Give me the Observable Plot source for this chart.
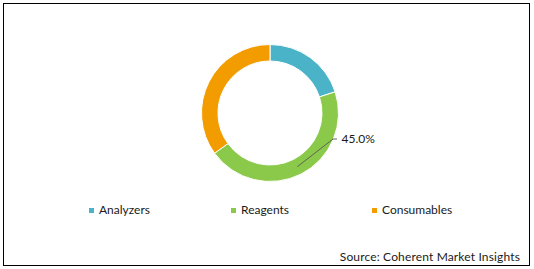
<!DOCTYPE html>
<html><head><meta charset="utf-8">
<script src="https://cdn.jsdelivr.net/npm/d3@7"></script>
<script src="https://cdn.jsdelivr.net/npm/@observablehq/plot@0.6"></script>
<style>
html,body{margin:0;padding:0;background:#fff;}
#wrap{position:relative;width:534px;height:269px;overflow:hidden;font-family:Lato,"Open Sans",sans-serif;color:#000;}
#frame{position:absolute;left:3px;top:3px;width:525px;height:261px;border:1px solid #000;}
#chart{position:absolute;left:0;top:0;}
.leg{position:absolute;top:203px;font-size:12px;line-height:14px;display:flex;align-items:center;white-space:nowrap;color:#1a1a1a;}
.sw{width:5px;height:5px;margin-right:5px;}
#source{position:absolute;right:14px;top:250px;font-size:12px;line-height:14px;white-space:nowrap;color:#1a1a1a;letter-spacing:0.15px;}
</style></head>
<body><div id="wrap"><div id="frame"></div><div id="chart"></div><div id="legend"></div><div id="source"></div></div>
<script>
const categories = ["Analyzers", "Reagents", "Consumables"];
const shares = [20.0, 45.0, 35.0];
const colors = ["#4BB3C8", "#8BC94A", "#F39C00"];
const sliceLabels = ["", "45.0%", ""];
const sourceText = "Source: Coherent Market Insights";

const innerRatio = 52 / 68.5;
const legendX = [89, 231, 372];

function ring(index, scales, values, dims) {
  let cx, cy, R;
  if (scales && scales.x && scales.y) {
    cx = scales.x(0); cy = scales.y(0);
    R = Math.abs(scales.x(1) - scales.x(0));
  } else {
    cx = dims.marginLeft + (dims.width - dims.marginLeft - dims.marginRight) / 2;
    cy = dims.marginTop + (dims.height - dims.marginTop - dims.marginBottom) / 2;
    R = (dims.width - dims.marginLeft - dims.marginRight) / 2;
  }
  const pie = d3.pie().sort(null).value(d => d)(shares);
  const arc = d3.arc().outerRadius(R).innerRadius(R * innerRatio);
  const g = d3.create("svg:g").attr("transform", `translate(${cx},${cy})`);
  g.selectAll("path.slice").data(pie).join("path")
    .attr("class", "slice")
    .attr("d", arc)
    .attr("fill", (d, i) => colors[i])
    .attr("stroke", "#fff")
    .attr("stroke-width", 1);
  pie.forEach((p, i) => {
    if (!sliceLabels[i]) return;
    const mid = (p.startAngle + p.endAngle) / 2;
    const rm = R * (1 + innerRatio) / 2;
    const x0 = rm * Math.sin(mid), y0 = -rm * Math.cos(mid);
    const x1 = R * 0.92, y1 = R * 0.38;
    g.append("path")
      .attr("d", `M${x0},${y0}L${x1},${y1}L${x1 + 4},${y1}`)
      .attr("fill", "none").attr("stroke", "#595959").attr("stroke-width", 0.9);
    g.append("text")
      .attr("x", x1 + 8.5).attr("y", y1)
      .attr("dy", "0.35em")
      .attr("text-anchor", "start")
      .attr("font-family", "Lato, 'Open Sans', sans-serif")
      .attr("font-size", 12)
      .attr("fill", "#1a1a1a")
      .text(sliceLabels[i]);
  });
  return g.node();
}

const plot = Plot.plot({
  width: 534,
  height: 195,
  marginLeft: 201.5,
  marginRight: 195.5,
  marginTop: 44.5,
  marginBottom: 13.5,
  x: {domain: [-1, 1], axis: null},
  y: {domain: [-1, 1], axis: null},
  marks: [
    Plot.dot([-1, 1], {x: d => d, y: d => d, r: 0, stroke: "none"}),
    ring
  ]
});
document.getElementById("chart").appendChild(plot);

const legend = document.getElementById("legend");
categories.forEach((c, i) => {
  const item = document.createElement("div");
  item.className = "leg";
  item.style.left = legendX[i] + "px";
  const sw = document.createElement("div");
  sw.className = "sw";
  sw.style.background = colors[i];
  item.appendChild(sw);
  item.appendChild(document.createTextNode(c));
  legend.appendChild(item);
});
document.getElementById("source").textContent = sourceText;
</script>
</body></html>
